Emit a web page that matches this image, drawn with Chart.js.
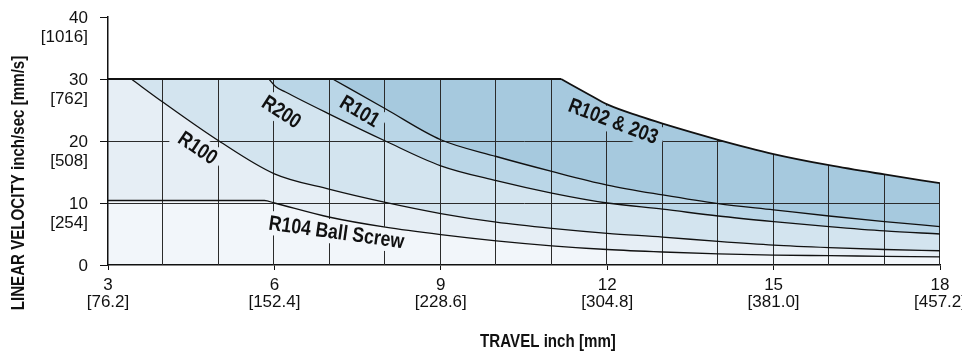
<!DOCTYPE html>
<html>
<head>
<meta charset="utf-8">
<script src="https://cdn.jsdelivr.net/npm/chart.js@4.4.1/dist/chart.umd.min.js"></script>
<style>
  html, body { margin: 0; padding: 0; background: #fff; }
  #wrap { width: 962px; height: 352px; position: relative; }
</style>
</head>
<body>
<div id="wrap"><canvas id="chart"></canvas></div>
<script>
// Travel (inch) and linear velocity (inch/sec) for each actuator model.
// R100/R200/R101/R102 start where they leave the 30 inch/sec ceiling.
const r104Travel = [3, 5.82, 6, 7, 8, 9, 10, 11, 12, 13, 14, 15, 16, 17, 18];
const r104Speed  = [10.4, 10.4, 10.0, 7.7, 6.1, 4.9, 3.9, 3.1, 2.5, 2.1, 1.8, 1.6, 1.5, 1.4, 1.3];

const r100Travel = [3.42, 4, 5, 6, 7, 8, 9, 10, 11, 12, 13, 14, 15, 16, 17, 18];
const r100Speed  = [30, 26.2, 20.0, 14.7, 12.2, 10.1, 8.3, 6.9, 5.9, 5.1, 4.5, 3.8, 3.2, 2.8, 2.5, 2.3];

const r200Travel = [5.9, 6.02, 6.2, 7, 8, 9, 10, 11, 12, 13, 14, 15, 16, 17, 18];
const r200Speed  = [30, 28.8, 27.9, 24.3, 20.0, 16.0, 13.6, 11.6, 10.0, 9.0, 7.9, 7.0, 6.2, 5.5, 5.0];

const r101Travel = [7.05, 8, 9, 10, 11, 12, 13, 14, 15, 16, 17, 18];
const r101Speed  = [30, 25.2, 20.2, 17.5, 15.1, 12.9, 11.3, 9.9, 8.9, 7.9, 7.0, 6.2];

const r102Travel = [11.17, 11.67, 12, 12.58, 13, 14, 15, 16, 17, 18];
const r102Speed  = [30, 27.5, 25.9, 24.0, 22.8, 20.2, 17.9, 16.1, 14.6, 13.2];

// Axis range and tick labels (inch with metric in brackets)
const travelRange   = [3, 18];
const speedRange    = [0, 40];
const travelTicks   = [3, 6, 9, 12, 15, 18];
const travelTicksMm = ['76.2', '152.4', '228.6', '304.8', '381.0', '457.2'];
const speedTicks    = [0, 10, 20, 30, 40];
const speedTicksMm  = ['', '254', '508', '762', '1016'];

// Interior grid positions
const gridTravel = [4, 5, 6, 7, 8, 9, 10, 11, 12, 13, 14, 15, 16, 17, 18];
const gridSpeed  = [10, 20];

// Curve names, bottom to top
const curveNames = ['R104 Ball Screw', 'R100', 'R200', 'R101', 'R102 & 203'];

const TICK_FONT = '"Liberation Sans", Arial, sans-serif';
const BOLD_FONT = '"Liberation Sans", Arial, sans-serif';
const CONDENSE = 0.84;   // horizontal squeeze for the bold condensed lettering
const regionColors = ['#f2f6fa', '#e6eef5', '#d3e4ef', '#bad6e7', '#a6c9de'];

function pts(xs, ys) { return xs.map((x, i) => ({ x: x, y: ys[i] })); }

// Curve name placement (data coordinates, rotation in degrees)
const nameLayout = [
  { text: curveNames[1], x: 4.62, y: 18.9, angle: 34, region: 1 },
  { text: curveNames[2], x: 6.13, y: 24.7, angle: 33, region: 2 },
  { text: curveNames[3], x: 7.54, y: 24.8, angle: 31, region: 3 },
  { text: curveNames[4], x: 12.11, y: 23.2, angle: 21, region: 4 },
  { text: curveNames[0], x: 7.12, y: 5.3, angle: 8, region: 0 }
];

// Outline of the area under one curve: up the left edge to the curve start,
// along the curve, then down to the travel axis.
function traceArea(chart, index, ctx) {
  const xs = chart.scales.x, ys = chart.scales.y;
  const meta = chart.getDatasetMeta(index);
  const line = meta.dataset;
  line.updateControlPoints(chart.chartArea, 'x');
  const first = meta.data[0];
  const last = meta.data[meta.data.length - 1];
  const x0 = xs.getPixelForValue(travelRange[0]);
  const base = ys.getPixelForValue(0);
  ctx.moveTo(x0, base);
  ctx.lineTo(x0, first.y);
  const joiner = {
    moveTo: (a, b) => ctx.lineTo(a, b),
    lineTo: (a, b) => ctx.lineTo(a, b),
    bezierCurveTo: (a, b, c, d, e, f) => ctx.bezierCurveTo(a, b, c, d, e, f),
    closePath: () => {}
  };
  line.path(joiner);
  ctx.lineTo(last.x, base);
  ctx.closePath();
  return last;
}

const envelopePlugin = {
  id: 'envelopeGrid',
  beforeDraw(chart) {
    const { ctx } = chart;
    // bands: paint from the highest curve down
    for (let i = chart.data.datasets.length - 1; i >= 0; i--) {
      ctx.save();
      ctx.beginPath();
      traceArea(chart, i, ctx);
      ctx.fillStyle = regionColors[i];
      ctx.fill();
      ctx.restore();
    }
  },
  beforeDatasetsDraw(chart) {
    const { ctx, chartArea, scales } = chart;
    const xs = scales.x, ys = scales.y;
    const bottom = ys.getPixelForValue(0);

    ctx.save();
    ctx.beginPath();
    traceArea(chart, 4, ctx);
    ctx.clip();
    ctx.strokeStyle = '#2b2b2b';
    ctx.lineWidth = 1;
    for (const v of gridTravel) {
      const px = Math.round(xs.getPixelForValue(v)) - 0.5;
      ctx.beginPath();
      ctx.moveTo(px, bottom);
      ctx.lineTo(px, chartArea.top);
      ctx.stroke();
    }
    for (const v of gridSpeed) {
      const py = Math.round(ys.getPixelForValue(v)) + 0.5;
      ctx.beginPath();
      ctx.moveTo(chartArea.left, py);
      ctx.lineTo(chartArea.right + 2, py);
      ctx.stroke();
    }
    ctx.restore();

    // Curve names on a patch of their band colour
    ctx.save();
    ctx.font = 'bold 21px ' + BOLD_FONT;
    ctx.textAlign = 'center';
    ctx.textBaseline = 'middle';
    for (const lab of nameLayout) {
      const px = xs.getPixelForValue(lab.x);
      const py = ys.getPixelForValue(lab.y);
      const w = ctx.measureText(lab.text).width * CONDENSE;
      ctx.save();
      ctx.translate(px, py);
      ctx.rotate(lab.angle * Math.PI / 180);
      ctx.fillStyle = regionColors[lab.region];
      ctx.fillRect(-w / 2 - 6, -12, w + 12, 24);
      ctx.scale(CONDENSE, 1);
      ctx.fillStyle = '#111';
      ctx.fillText(lab.text, 0, 1);
      ctx.restore();
    }
    ctx.restore();
  },
  afterDatasetsDraw(chart) {
    // 30 inch/sec ceiling from the start of travel to where R102 & 203 falls off
    const { ctx, scales } = chart;
    const xs = scales.x, ys = scales.y;
    const py = ys.getPixelForValue(r102Speed[0]);
    ctx.save();
    ctx.strokeStyle = '#111';
    ctx.lineWidth = 1.8;
    ctx.beginPath();
    ctx.moveTo(xs.getPixelForValue(travelRange[0]), py);
    ctx.lineTo(xs.getPixelForValue(r102Travel[0]), py);
    ctx.stroke();
    ctx.restore();
  },
  afterDraw(chart) {
    const { ctx } = chart;
    ctx.save();
    ctx.fillStyle = '#111';
    ctx.textAlign = 'center';
    ctx.textBaseline = 'middle';
    ctx.font = 'bold 18px ' + BOLD_FONT;
    ctx.save();
    ctx.translate(548, 342);
    ctx.scale(CONDENSE, 1);
    ctx.fillText('TRAVEL inch [mm]', 0, 0);
    ctx.restore();
    ctx.save();
    ctx.translate(19, 183);
    ctx.rotate(-Math.PI / 2);
    ctx.scale(CONDENSE, 1);
    ctx.fillText('LINEAR VELOCITY inch/sec [mm/s]', 0, 0);
    ctx.restore();
    ctx.restore();
  }
};

function series(i, xs, ys, width) {
  return {
    label: curveNames[i],
    data: pts(xs, ys),
    borderColor: '#111',
    borderWidth: width,
    backgroundColor: regionColors[i],
    fill: false,
    pointRadius: 0,
    cubicInterpolationMode: 'monotone'
  };
}

new Chart(document.getElementById('chart'), {
  type: 'line',
  data: {
    datasets: [
      series(0, r104Travel, r104Speed, 1.3),
      series(1, r100Travel, r100Speed, 1.3),
      series(2, r200Travel, r200Speed, 1.3),
      series(3, r101Travel, r101Speed, 1.3),
      series(4, r102Travel, r102Speed, 1.8)
    ]
  },
  options: {
    responsive: true,
    maintainAspectRatio: false,
    animation: false,
    devicePixelRatio: 1,
    layout: { padding: { top: 17, right: 22, left: 0, bottom: 0 } },
    plugins: {
      legend: { display: false },
      tooltip: { enabled: false }
    },
    scales: {
      x: {
        type: 'linear',
        min: travelRange[0], max: travelRange[1],
        border: { display: true, color: '#111', width: 1.5 },
        grid: { drawOnChartArea: false, drawTicks: true, tickLength: 5, color: '#111' },
        ticks: {
          stepSize: 3,
          autoSkip: false,
          maxRotation: 0,
          padding: 7,
          color: '#111',
          font: { family: TICK_FONT, size: 17, lineHeight: 1.0 },
          callback: (v) => {
            const i = travelTicks.indexOf(v);
            return i < 0 ? '' : [String(v), '[' + travelTicksMm[i] + ']'];
          }
        },
        afterFit: (s) => { s.height = 87; s.paddingLeft = 0; s.paddingRight = 0; }
      },
      y: {
        min: speedRange[0], max: speedRange[1],
        border: { display: true, color: '#111', width: 1.5 },
        grid: { drawOnChartArea: false, drawTicks: true, tickLength: 8, color: '#111' },
        ticks: {
          stepSize: 10,
          padding: 12,
          labelOffset: 11,
          color: '#111',
          font: { family: TICK_FONT, size: 17, lineHeight: 1.1 },
          callback: (v) => {
            const i = speedTicks.indexOf(v);
            if (i < 0) return '';
            return [String(v), speedTicksMm[i] ? '[' + speedTicksMm[i] + ']' : ''];
          }
        },
        afterFit: (s) => { s.width = 108; s.paddingTop = 0; s.paddingBottom = 0; }
      }
    }
  },
  plugins: [envelopePlugin]
});
</script>
</body>
</html>
